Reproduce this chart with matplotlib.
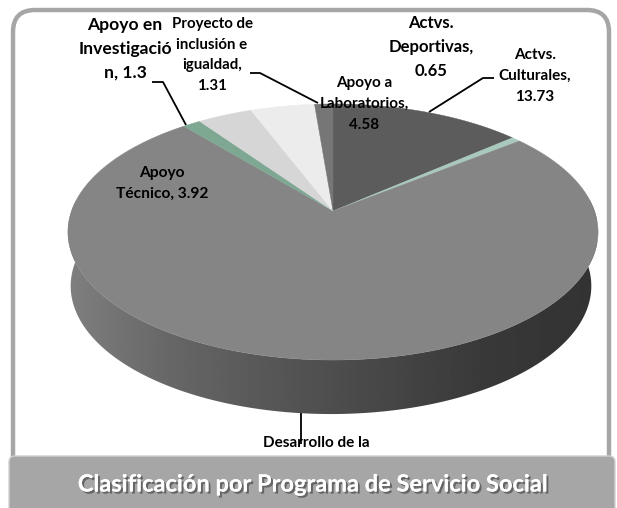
import numpy as np
import matplotlib
matplotlib.use("Agg")
import matplotlib.pyplot as plt
from matplotlib.patches import Polygon, FancyBboxPatch
import matplotlib.patheffects as pe

plt.rcParams['font.family'] = ['Lato', 'DejaVu Sans']

# Data (the big slice label is cut off, its value is the rest up to 100)
programas = ["Actvs. Culturales", "Actvs. Deportivas", "Desarrollo de la", "Apoyo en Investigación",
             "Apoyo Técnico", "Apoyo a Laboratorios", "Proyecto de inclusión e igualdad"]
valores = [13.73, 0.65, 74.51, 1.30, 3.92, 4.58, 1.31]
colores = ["#5c5c5c", "#a9c9bd", "#858585", "#7fa893", "#d6d6d6", "#ececec", "#767676"]

titulo = "Clasificación por Programa de Servicio Social"

W, H = 617, 508
CX, CY = 333, 211      # apex of the pie on screen
A, B, K = 124.6, 261.5, 0.164
GROSOR = 54


def proyecta(theta):
    # circle to screen with a bit of perspective, theta clockwise from the top
    u, v = np.sin(theta), np.cos(theta)
    d = 1 + K * v
    return CX + B * u / d, CY - A * v / d


fig = plt.figure(figsize=(W / 100, H / 100), dpi=100)
ax = fig.add_axes([0, 0, 1, 1])

# frame
ax.add_patch(FancyBboxPatch((13, 10), 596, 480, boxstyle="round,pad=0,rounding_size=22",
                            fc="white", ec="#a6a6a6", lw=3.2, zorder=1))

# side wall, the bottom edge is a bit narrower than the top face
t = np.linspace(np.pi / 2 - 0.3, 3 * np.pi / 2 + 0.3, 300)
xf, yf = proyecta(t)
xb = CX - 2 + (xf - CX) * 0.982
pared = Polygon(np.r_[np.c_[xf, yf], np.c_[xb[::-1], yf[::-1] + GROSOR]], closed=True, fc="none", ec="none", zorder=2)
ax.add_patch(pared)
grad = np.interp(np.linspace(0, 1, 256), [0, 0.2, 0.55, 0.8, 1], [0.20, 0.22, 0.32, 0.40, 0.50])[None, :]
im = ax.imshow(grad, extent=[597, 67, 420, 200], cmap="gray", vmin=0, vmax=1, aspect="auto", zorder=2)
im.set_clip_path(pared)

# top face, slices clockwise from 12 o'clock
fin = np.cumsum(valores) / np.sum(valores) * 2 * np.pi
ini = np.r_[0, fin[:-1]]
for a, b, c in zip(ini, fin, colores):
    px, py = proyecta(np.linspace(a, b, 200))
    ax.add_patch(Polygon(np.c_[np.r_[CX, px], np.r_[CY, py]], closed=True, fc=c, ec=c, lw=0.3, zorder=3))

# leader lines
lineas = [([152, 163, 186], [82, 82, 125]),
          ([250, 260, 318], [73, 73, 103]),
          ([429, 483, 494], [112, 78, 78]),
          ([301, 301], [413, 444])]
for lx, ly in lineas:
    ax.plot(lx, ly, color="black", lw=1.3, zorder=4, solid_capstyle="butt")

# labels
etiquetas = [("Apoyo en\nInvestigació\nn, 1.3", 125, 49, 12.6),
             ("Proyecto de\ninclusión e\nigualdad,\n1.31", 212, 55, 10.8),
             ("Apoyo a\nLaboratorios,\n4.58", 364, 104, 11),
             ("Actvs.\nDeportivas,\n0.65", 431, 47, 12),
             ("Actvs.\nCulturales,\n13.73", 535, 76, 11),
             ("Apoyo\nTécnico, 3.92", 162, 183, 11.2)]
for txt, x, y, fs in etiquetas:
    ax.text(x, y, txt, ha="center", va="center", fontsize=fs, fontweight="bold",
            linespacing=1.6, color="black", zorder=5)
ax.text(316, 443, "Desarrollo de la", ha="center", va="center", fontsize=11, fontweight="bold", zorder=5)

# bottom band
ax.add_patch(FancyBboxPatch((9, 456), 606, 70, boxstyle="round,pad=0,rounding_size=6",
                            fc="#a6a6a6", ec="#d0d0d0", lw=1, zorder=6))
ax.text(313, 484, titulo, ha="center", va="center", color="white", fontsize=17, fontweight="bold", zorder=7,
        path_effects=[pe.withSimplePatchShadow(offset=(1.5, -1.5), shadow_rgbFace="#555555", alpha=0.8), pe.Normal()])

ax.set_xlim(0, W)
ax.set_ylim(H, 0)
ax.axis("off")

fig.savefig("out.png", dpi=100)
